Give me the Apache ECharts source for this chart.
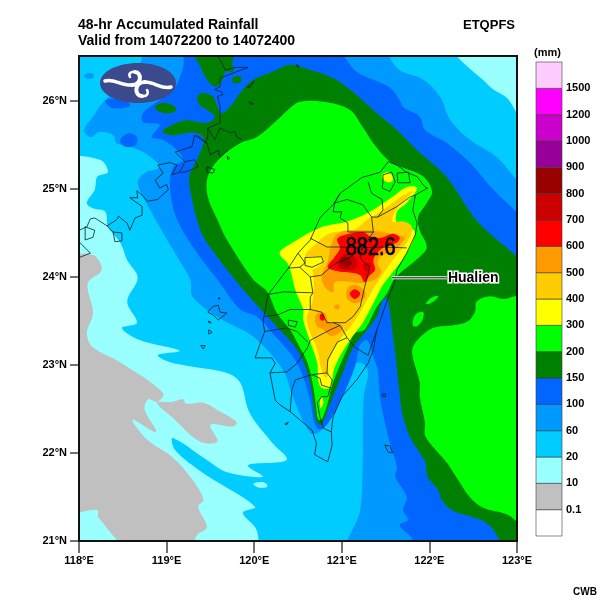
<!DOCTYPE html>
<html>
<head>
<meta charset="utf-8">
<script src="https://cdn.jsdelivr.net/npm/echarts@6/dist/echarts.min.js"></script>
<style>
html,body{margin:0;padding:0;background:#fff}
#main{width:600px;height:600px}
</style>
</head>
<body>
<div id="main"></div>
<script>
// axis ticks
const lonTicks = [118, 119, 120, 121, 122, 123];
const latTicks = [21, 22, 23, 24, 25, 26];
const lonRange = [118, 123];
const latRange = [21, 26.51];

// colour bar, bottom box first
const scaleLabels = ['', '0.1', '10', '20', '60', '100', '150', '200', '300', '400', '500', '600', '700', '800', '900', '1000', '1200', '1500', ''];
const scaleColors = ['#ffffff', '#c0c0c0', '#99ffff', '#00ccff', '#0099ff', '#0066ff', '#008000', '#00ff00', '#ffff00', '#ffcc00', '#ff9900', '#ff0000', '#cc0000', '#990000', '#990099', '#cc00cc', '#ff00ff', '#ffccff'];

const maxRain = '882.6';
const maxRainAt = [121.33, 24.33];
const stationName = 'Hualien';
const stationAt = [121.57, 23.99];
const stationLabelAt = [122.2, 23.99];

// rainfall contours, rings of [lon, lat], lowest level first
const wholeMap = [[[117.9,20.9],[123.1,20.9],[123.1,26.6],[117.9,26.6]]];
const rain10 = [
  [[117.9,25.31],[118.24,25.33],[118.33,25.19],[118.21,25.14],[118.18,24.99],[118.09,24.84],[118.16,24.78],[118.30,24.74],[118.33,24.57],[118.47,24.39],[118.55,24.19],[118.67,23.99],[118.55,23.72],[118.66,23.48],[118.49,23.42],[118.70,23.28],[119.15,23.16],[118.90,23.11],[119.04,23.03],[119.30,22.98],[119.69,22.91],[119.84,22.80],[119.95,22.45],[120.21,22.11],[120.37,21.92],[119.93,21.86],[120.10,21.73],[119.69,21.78],[119.46,21.92],[119.07,22.17],[119.10,22.03],[119.42,21.77],[120.01,21.39],[119.87,21.32],[120.03,21.12],[120.0,20.9],[117.9,20.9]],
  [[119.99,21.65],[120.09,21.67],[120.15,21.64],[120.14,21.61],[120.04,21.61]],
  [[122.28,26.6],[122.32,26.5],[122.61,26.24],[122.73,26.13],[122.89,26.03],[123,25.86],[123.1,25.75],[123.1,26.6]]
];
const rain01 = [
  [[117.9,24.19],[118.16,24.25],[118.26,24.08],[118.10,23.93],[118.16,23.59],[118.09,23.36],[118.16,23.20],[118.47,23.03],[118.96,22.68],[118.89,22.58],[118.79,22.61],[118.75,22.49],[118.88,22.24],[118.61,22.38],[118.78,22.15],[119.07,21.95],[119.30,21.69],[119.42,21.47],[119.36,21.39],[119.46,21.16],[119.35,21.07],[119.26,20.9],[118.60,20.9],[118.22,21.27],[118.21,21.35],[117.9,21.36]],
  [[118.89,22.57],[119.06,22.58],[119.19,22.61],[119.22,22.56],[119.42,22.57],[119.61,22.47],[119.80,22.35],[119.75,22.30],[119.50,22.32],[119.58,22.13],[119.38,22.13],[119.07,22.40]]
];
const rain60 = [
  [[118.78,26.6],[121.41,26.6],[121.66,26.35],[121.93,26.24],[122.12,26.05],[122.24,25.78],[122.46,25.56],[122.77,25.36],[123.0,25.10],[123.1,25.0],[123.1,20.9],[121.09,20.9],[121.21,21.35],[121.24,21.95],[121.24,22.23],[121.25,22.64],[121.30,22.92],[121.23,23.02],[121.09,22.98],[120.98,22.64],[120.89,22.45],[120.75,22.24],[120.64,22.23],[120.44,22.64],[120.33,22.94],[119.99,23.32],[119.64,23.51],[119.30,23.77],[119.27,23.97],[119.12,24.23],[118.92,24.57],[118.78,24.82],[118.67,25.07],[118.75,25.18],[118.92,25.24],[118.89,25.30],[118.75,25.41],[118.58,25.48],[118.43,25.52],[118.39,25.61],[118.24,25.65],[118.13,25.59],[118.06,25.67],[118.16,25.82],[118.27,25.98],[118.58,26.24],[118.70,26.43]],
  [[118.07,26.30],[118.16,26.31],[118.16,26.26],[118.07,26.26]]
];
const rain100 = [
  [[119.23,26.6],[120.90,26.6],[121.17,26.33],[121.55,26.15],[121.66,26.01],[121.70,25.93],[121.89,25.82],[121.95,25.67],[122.20,25.52],[122.46,25.30],[122.73,24.99],[123,24.73],[123.1,24.6],[123.1,20.9],[121.80,20.9],[121.80,21.03],[121.66,21.18],[121.76,21.24],[121.70,21.35],[121.74,21.50],[121.61,21.73],[121.63,21.84],[121.55,22.11],[121.44,22.60],[121.41,22.94],[121.36,23.09],[121.29,23.28],[121.21,23.23],[121.15,22.98],[121.01,22.64],[120.90,22.43],[120.79,22.28],[120.72,22.28],[120.67,22.41],[120.64,22.60],[120.49,23.02],[120.21,23.36],[120.03,23.55],[119.84,23.63],[119.58,23.97],[119.35,24.27],[119.12,24.65],[119.04,24.99],[119.07,25.24],[119.19,25.33],[119.12,25.44],[118.95,25.56],[118.83,25.59],[118.92,25.73],[118.73,25.76],[118.73,25.86],[118.92,26.01],[119.10,26.16],[119.19,26.39]],
  [[118.47,25.55],[118.56,25.63],[118.66,25.59],[118.65,25.50],[118.53,25.48]],
  [[118.30,26.01],[118.53,26.01],[118.58,25.94],[118.38,25.92]]
];
const rain150 = [
  [[118.95,25.65],[119.07,25.73],[119.23,25.78],[119.46,25.75],[119.55,25.82],[119.46,25.90],[119.38,25.95],[119.35,26.05],[119.42,26.09],[119.53,26.05],[119.58,25.93],[119.63,25.86],[119.72,25.93],[119.87,26.13],[119.99,26.24],[120.21,26.33],[120.41,26.41],[120.64,26.35],[120.90,26.26],[121.13,26.10],[121.40,25.86],[121.63,25.67],[121.86,25.44],[122.20,25.13],[122.55,24.63],[123,24.23],[123.1,24.12],[123.1,20.9],[122.9,20.9],[122.66,21.20],[122.26,21.35],[122.14,21.47],[122.10,21.58],[121.98,21.73],[121.95,21.90],[121.78,22.18],[121.69,22.45],[121.66,22.68],[121.60,23.20],[121.52,23.76],[121.47,23.74],[121.40,23.55],[121.26,23.36],[121.13,23.20],[121.01,22.91],[120.90,22.64],[120.84,22.49],[120.77,22.32],[120.72,22.35],[120.69,22.45],[120.66,22.68],[120.60,22.94],[120.49,23.17],[120.29,23.40],[120.03,23.68],[119.78,23.97],[119.44,24.42],[119.36,24.61],[119.29,24.88],[119.26,25.14],[119.36,25.36],[119.42,25.58],[119.30,25.64],[119.07,25.61]],
  [[119.29,26.6],[119.38,26.40],[119.45,26.26],[119.55,26.16],[119.63,26.22],[119.67,26.33],[119.76,26.33],[119.75,26.44],[119.79,26.6]],
  [[118.87,25.94],[118.98,25.98],[119.10,25.93],[119.10,25.88],[118.98,25.86],[118.89,25.89]],
  [[119.75,26.26],[119.84,26.28],[119.85,26.22],[119.77,26.20]]
];
const rain200 = [
  [[119.47,25.14],[119.61,25.35],[119.84,25.52],[120.03,25.59],[120.26,25.78],[120.41,25.92],[120.52,25.99],[120.79,25.99],[121.09,25.90],[121.24,25.70],[121.36,25.52],[121.55,25.31],[121.70,25.24],[121.93,25.14],[122.03,24.97],[121.97,24.84],[121.87,24.68],[121.89,24.53],[121.97,24.34],[121.89,24.23],[121.61,23.99],[121.52,23.82],[121.40,23.66],[121.26,23.40],[121.15,23.36],[121.07,23.20],[120.90,22.80],[120.84,22.57],[120.77,22.38],[120.73,22.38],[120.71,22.49],[120.68,22.72],[120.61,23.02],[120.52,23.20],[120.41,23.40],[120.26,23.59],[120.15,23.83],[119.99,23.97],[119.69,24.42],[119.58,24.65],[119.47,24.91]],
  [[123.1,23.77],[122.84,23.75],[122.69,23.78],[122.54,23.72],[122.52,23.60],[122.43,23.49],[122.27,23.45],[122.04,23.42],[121.89,23.31],[121.81,23.20],[121.81,23.09],[121.89,22.80],[121.89,22.64],[121.95,22.34],[121.95,22.20],[122.04,22.07],[122.20,21.89],[122.33,21.69],[122.46,21.50],[122.61,21.38],[122.89,21.30],[123,21.22],[123.1,21.15]],
  [[121.96,23.70],[122.03,23.77],[122.10,23.78],[122.06,23.73],[121.98,23.69]],
  [[121.81,23.45],[121.84,23.57],[121.93,23.60],[121.92,23.51],[121.86,23.44]]
];
const rain300 = [
  [[121.86,25.01],[121.74,25.02],[121.58,24.91],[121.32,24.74],[121.06,24.63],[120.75,24.56],[120.44,24.39],[120.29,24.27],[120.39,24.14],[120.47,23.85],[120.56,23.63],[120.56,23.51],[120.64,23.26],[120.72,23.02],[120.73,22.83],[120.77,22.74],[120.87,22.74],[120.89,22.83],[120.92,22.98],[121.09,23.28],[121.24,23.48],[121.36,23.70],[121.47,23.91],[121.58,24.05],[121.74,24.27],[121.84,24.50],[121.78,24.56],[121.64,24.59],[121.63,24.74],[121.74,24.84]],
  [[121.46,25.16],[121.53,25.19],[121.58,25.14],[121.57,25.08],[121.49,25.09]],
  [[120.75,22.58],[120.77,22.64],[120.79,22.57],[120.76,22.51]]
];
const rain400 = [
  [[121.81,24.97],[121.71,24.93],[121.58,24.84],[121.44,24.74],[121.29,24.65],[121.13,24.53],[120.87,24.50],[120.72,24.39],[120.58,24.23],[120.67,24.05],[120.67,23.74],[120.60,23.51],[120.72,23.17],[120.77,22.94],[120.81,22.86],[120.85,22.89],[120.84,23.02],[120.95,23.25],[121.09,23.42],[121.18,23.55],[121.29,23.74],[121.40,23.93],[121.58,24.19],[121.76,24.42],[121.80,24.57],[121.70,24.63],[121.58,24.63],[121.63,24.78]]
];
const rain300Notch = [[[120.57,24.21],[120.77,24.23],[120.79,24.17],[120.66,24.08],[120.58,24.08]]];
const rain500 = [
  [[120.96,24.50],[121.24,24.53],[121.52,24.50],[121.72,24.45],[121.69,24.39],[121.61,24.31],[121.44,24.23],[121.41,24.14],[121.45,24.06],[121.38,23.97],[121.28,23.94],[121.18,23.93],[121.05,23.95],[120.92,23.94],[120.90,23.83],[120.81,23.88],[120.77,24.01],[120.84,24.17],[120.87,24.33]],
  [[121.05,23.81],[121.08,23.89],[121.16,23.91],[121.26,23.84],[121.26,23.76],[121.16,23.70],[121.07,23.74]],
  [[120.91,23.66],[120.95,23.69],[120.98,23.66],[120.95,23.63]],
  [[120.71,23.58],[120.81,23.59],[120.85,23.49],[120.95,23.45],[121.01,23.44],[120.98,23.37],[120.87,23.33],[120.79,23.40],[120.71,23.45]]
];
const rain600 = [
  [[120.95,24.44],[121.04,24.48],[121.24,24.51],[121.36,24.44],[121.47,24.45],[121.58,24.49],[121.66,24.45],[121.63,24.39],[121.52,24.36],[121.41,24.28],[121.36,24.19],[121.38,24.08],[121.32,24.02],[121.26,23.94],[121.21,24.02],[121.09,24.05],[120.98,24.06],[120.84,24.11],[120.92,24.23],[120.98,24.33],[120.95,24.40]],
  [[121.09,23.81],[121.15,23.86],[121.21,23.81],[121.15,23.75]],
  [[120.75,23.57],[120.79,23.58],[120.80,23.51],[120.76,23.51]]
];
const rain700 = [
  [[120.96,24.17],[121.04,24.27],[121.12,24.25],[121.18,24.17],[121.15,24.09],[121.04,24.08],[120.96,24.11]],
  [[121.24,24.14],[121.30,24.16],[121.33,24.11],[121.28,24.06]]
];
const rain800 = [[[121.00,24.22],[121.08,24.22],[121.11,24.15],[121.04,24.11],[120.98,24.15]]];

// coast and county lines
const taiwanOutline = [[121.98,25.01],[121.84,24.93],[121.81,24.76],[121.86,24.61],[121.84,24.48],[121.74,24.27],[121.63,24.08],[121.60,23.93],[121.52,23.74],[121.44,23.51],[121.40,23.40],[121.36,23.17],[121.30,23.02],[121.17,22.83],[121.00,22.64],[120.90,22.41],[120.88,22.24],[120.89,22.09],[120.84,21.90],[120.69,21.98],[120.71,22.11],[120.66,22.26],[120.41,22.47],[120.29,22.55],[120.24,22.60],[120.18,22.91],[120.24,23.02],[120.20,23.08],[120.01,23.08],[120.07,23.25],[120.12,23.38],[120.10,23.49],[120.16,23.80],[120.39,24.10],[120.50,24.27],[120.64,24.42],[120.75,24.67],[120.90,24.82],[120.98,24.95],[121.23,25.13],[121.44,25.19],[121.53,25.31],[121.63,25.27],[121.74,25.19],[121.86,25.14],[121.95,25.02],[121.98,25.01]];
const countyLines = [
  [[120.64,24.44],[120.83,24.34],[120.98,24.34],[121.17,24.33],[121.47,24.34],[121.74,24.33]],
  [[120.39,24.10],[120.52,24.11],[120.64,24.00],[120.77,24.02],[120.87,24.11],[120.96,24.17],[121.09,24.22],[121.24,24.33]],
  [[120.50,24.27],[120.58,24.16],[120.52,24.11]],
  [[120.98,24.95],[120.92,24.84],[121.06,24.88],[121.24,24.82],[121.34,24.68],[121.41,24.68],[121.63,24.80],[121.78,24.91],[121.84,24.93]],
  [[121.30,25.08],[121.34,24.95],[121.46,24.88],[121.47,24.76],[121.41,24.68]],
  [[120.92,24.84],[120.90,24.74],[121.00,24.74],[120.98,24.67],[121.07,24.61],[121.07,24.51],[121.17,24.51],[121.36,24.51],[121.34,24.68]],
  [[121.36,24.51],[121.24,24.33],[121.21,24.22],[121.26,24.16],[121.32,24.11],[121.29,24.00],[121.26,23.88],[121.21,23.66],[121.13,23.55],[121.04,23.48],[120.90,23.48],[120.83,23.48],[120.77,23.60],[120.64,23.63],[120.64,23.77],[120.67,23.82]],
  [[120.16,23.80],[120.33,23.83],[120.67,23.82]],
  [[120.64,24.00],[120.67,23.82]],
  [[120.12,23.55],[120.27,23.57],[120.41,23.63],[120.64,23.63]],
  [[120.90,23.48],[120.98,23.45],[120.87,23.40],[120.64,23.28],[120.61,23.20],[120.49,23.02],[120.37,22.92],[120.18,22.91]],
  [[120.12,23.38],[120.37,23.42],[120.49,23.38],[120.61,23.26]],
  [[121.06,23.31],[120.95,23.26],[120.84,23.06],[120.83,22.91],[120.66,22.89],[120.47,22.83],[120.43,22.72],[120.41,22.47]],
  [[120.98,23.45],[121.06,23.31],[121.15,23.20],[121.30,23.11],[121.40,23.40]],
  [[120.66,22.89],[120.75,22.85],[120.77,22.77],[120.87,22.74],[120.89,22.83],[120.83,22.91]],
  [[120.87,22.74],[120.84,22.64],[120.77,22.64],[120.72,22.57],[120.75,22.41],[120.79,22.28],[120.88,22.24]],
  [[120.58,24.22],[120.77,24.23],[120.79,24.17],[120.66,24.11],[120.58,24.13],[120.58,24.22]],
  [[121.47,25.16],[121.57,25.19],[121.61,25.08],[121.55,24.97],[121.46,25.01],[121.47,25.08],[121.47,25.16]],
  [[121.63,25.18],[121.76,25.19],[121.78,25.07],[121.64,25.07],[121.63,25.18]],
  [[120.39,23.51],[120.49,23.49],[120.47,23.43],[120.39,23.45],[120.39,23.51]]
];
const chinaCoast = [
  [[119.58,26.51],[119.61,26.47],[119.67,26.35],[119.78,26.38],[119.93,26.38],[119.61,26.26],[119.61,26.16],[119.55,26.13],[119.63,26.10],[119.64,26.07],[119.58,26.05],[119.61,25.93],[119.61,25.75],[119.47,25.69],[119.47,25.59],[119.44,25.52]],
  [[119.46,25.52],[119.32,25.61],[119.29,25.48],[119.10,25.42],[119.21,25.31],[119.32,25.33],[119.36,25.25],[119.21,25.19],[119.15,25.19],[119.21,25.31]],
  [[119.15,25.19],[119.06,25.16],[119.12,25.27],[119.04,25.30],[118.90,25.27],[118.96,25.18],[118.87,25.10],[118.92,25.01],[119.00,25.05],[119.02,24.99],[118.95,24.93],[118.90,24.88],[118.78,24.86],[118.72,24.93],[118.66,24.98],[118.67,24.90],[118.58,24.90],[118.72,24.80],[118.72,24.70],[118.64,24.67],[118.58,24.53],[118.55,24.61],[118.45,24.69],[118.43,24.65],[118.32,24.58],[118.18,24.67],[118.13,24.66],[118.09,24.57],[118.00,24.53]],
  [[118.32,24.58],[118.39,24.51],[118.49,24.50],[118.49,24.41],[118.41,24.40],[118.39,24.51]],
  [[118.00,24.40],[118.13,24.27],[118.00,24.22]],
  [[118.07,24.57],[118.18,24.53],[118.16,24.45],[118.07,24.42],[118.07,24.57]],
  [[119.35,25.61],[119.46,25.52],[119.50,25.39],[119.59,25.44],[119.61,25.36],[119.70,25.44]],
  [[119.47,25.69],[119.55,25.56],[119.61,25.69],[119.72,25.64],[119.78,25.65],[119.80,25.59],[119.86,25.56]],
  [[119.46,25.25],[119.55,25.22],[119.53,25.18],[119.46,25.19],[119.46,25.25]]
];
const islands = [
  [[119.47,23.60],[119.52,23.66],[119.59,23.68],[119.61,23.60],[119.69,23.59],[119.59,23.51],[119.53,23.57],[119.47,23.60]],
  [[119.60,23.77],[119.61,23.75],[119.59,23.75],[119.60,23.77]],
  [[119.48,23.50],[119.51,23.48],[119.48,23.48],[119.48,23.50]],
  [[119.48,23.40],[119.52,23.37],[119.48,23.35],[119.48,23.40]],
  [[119.39,23.22],[119.44,23.22],[119.42,23.18],[119.39,23.22]],
  [[120.35,22.33],[120.39,22.35],[120.37,22.32],[120.35,22.33]],
  [[121.46,22.67],[121.50,22.67],[121.50,22.64],[121.47,22.64],[121.46,22.67]],
  [[121.49,22.09],[121.55,22.08],[121.58,22.00],[121.53,22.01],[121.49,22.09]],
  [[119.92,26.15],[120.00,26.23],[119.96,26.16],[119.92,26.15]],
  [[119.94,25.99],[119.99,25.97],[119.96,25.96],[119.94,25.99]],
  [[120.48,26.41],[120.51,26.40],[120.50,26.38],[120.48,26.41]],
  [[119.69,25.37],[119.72,25.35],[119.70,25.33],[119.69,25.37]]
];

const fontName = '"Liberation Sans", Arial, sans-serif';

// one custom series for a set of filled rings
function areaSeries(rings, color, order) {
  return {
    type: 'custom',
    coordinateSystem: 'cartesian2d',
    clip: true,
    silent: true,
    z: order,
    data: rings.map((r, i) => [i]),
    renderItem: function (params, api) {
      return {
        type: 'polygon',
        shape: { points: rings[params.dataIndex].map(p => api.coord(p)), smooth: 0.35 },
        style: { fill: color, stroke: null }
      };
    }
  };
}

function lineSeries(lines, order) {
  return {
    type: 'custom',
    coordinateSystem: 'cartesian2d',
    clip: true,
    silent: true,
    z: order,
    data: lines.map((r, i) => [i]),
    renderItem: function (params, api) {
      return {
        type: 'polyline',
        shape: { points: lines[params.dataIndex].map(p => api.coord(p)) },
        style: { fill: null, stroke: '#10202a', lineWidth: 0.8 }
      };
    }
  };
}

const layers = [
  [wholeMap, '#00ccff'], [rain10, '#99ffff'], [rain01, '#c0c0c0'], [rain60, '#0099ff'],
  [rain100, '#0066ff'], [rain150, '#008000'], [rain200, '#00ff00'], [rain300, '#ffff00'],
  [rain400, '#ffcc00'], [rain300Notch, '#ffff00'], [rain500, '#ff9900'], [rain600, '#ff0000'],
  [rain700, '#cc0000'], [rain800, '#990000']
];
const series = layers.map((l, i) => areaSeries(l[0], l[1], i + 1));
series.push(lineSeries([taiwanOutline].concat(countyLines, chinaCoast, islands), 20));

// max value, station label and frame
series.push({
  type: 'custom',
  coordinateSystem: 'cartesian2d',
  clip: false,
  silent: true,
  z: 30,
  data: [[0]],
  renderItem: function (params, api) {
    const from = api.coord(stationAt);
    const to = api.coord(stationLabelAt);
    const low = api.coord([lonRange[0], latRange[0]]);
    const high = api.coord([lonRange[1], latRange[1]]);
    const peak = api.coord(maxRainAt);
    return {
      type: 'group',
      children: [
        { type: 'line', shape: { x1: from[0], y1: from[1], x2: to[0], y2: to[1] }, style: { stroke: '#fff', lineWidth: 3 } },
        { type: 'line', shape: { x1: from[0], y1: from[1], x2: to[0], y2: to[1] }, style: { stroke: '#000', lineWidth: 1 } },
        { type: 'text', style: { x: to[0] + 1, y: to[1], text: stationName, fill: '#000', stroke: '#fff', lineWidth: 3, font: 'bold 14px ' + fontName, align: 'left', verticalAlign: 'middle' } },
        { type: 'text', x: peak[0], y: peak[1], scaleX: 0.77, style: { x: 0, y: 0, text: maxRain, fill: '#000', stroke: '#000', lineWidth: 0.7, font: '26px ' + fontName, align: 'center', verticalAlign: 'middle' } },
        { type: 'rect', shape: { x: low[0], y: high[1], width: high[0] - low[0], height: low[1] - high[1] }, style: { fill: null, stroke: '#111', lineWidth: 2 } }
      ]
    };
  }
});

// colour bar
series.push({
  type: 'custom',
  coordinateSystem: 'cartesian2d',
  xAxisIndex: 1,
  yAxisIndex: 1,
  silent: true,
  z: 5,
  data: scaleColors.map((c, i) => [0, i]),
  renderItem: function (params, api) {
    const i = params.dataIndex;
    const a = api.coord([0, i]);
    const b = api.coord([1, i + 1]);
    return {
      type: 'rect',
      shape: { x: a[0], y: b[1], width: b[0] - a[0], height: a[1] - b[1] },
      style: { fill: scaleColors[i], stroke: 'rgba(60,60,60,0.6)', lineWidth: 1 }
    };
  }
});

const chart = echarts.init(document.getElementById('main'), null, { renderer: 'canvas' });
chart.setOption({
  animation: false,
  backgroundColor: '#fff',
  textStyle: { fontFamily: fontName },
  title: [
    { text: '48-hr Accumulated Rainfall\nValid from 14072200 to 14072400', left: 78, top: 17, padding: 0, textStyle: { fontSize: 14, fontWeight: 'bold', color: '#000', lineHeight: 16, fontFamily: fontName } },
    { text: 'ETQPFS', left: 463, top: 17, padding: 0, textStyle: { fontSize: 13, fontWeight: 'bold', color: '#000', lineHeight: 16, fontFamily: fontName } },
    { text: '(mm)', left: 534, top: 47, padding: 0, textStyle: { fontSize: 11, fontWeight: 'bold', color: '#000', fontFamily: fontName } },
    { text: 'CWB', left: 573, top: 587, padding: 0, textStyle: { fontSize: 10, fontWeight: 'bold', color: '#000', fontFamily: fontName } }
  ],
  grid: [
    { left: 79, top: 56, width: 438, height: 485 },
    { left: 536, top: 62, width: 26, height: 474 }
  ],
  xAxis: [
    {
      type: 'value', gridIndex: 0, min: lonRange[0], max: lonRange[1], interval: 1,
      splitLine: { show: false },
      axisLine: { lineStyle: { color: '#222', width: 2 } },
      axisTick: { length: 12, lineStyle: { color: '#444', width: 1.5 } },
      axisLabel: { formatter: v => v + '°E', color: '#000', fontSize: 11, fontWeight: 'bold', margin: 14, fontFamily: fontName, customValues: lonTicks }
    },
    { type: 'value', gridIndex: 1, min: 0, max: 1, show: false }
  ],
  yAxis: [
    {
      type: 'value', gridIndex: 0, min: latRange[0], max: latRange[1],
      splitLine: { show: false },
      axisLine: { lineStyle: { color: '#222', width: 2 } },
      axisTick: { length: 9, lineStyle: { color: '#444', width: 1.5 }, customValues: latTicks },
      axisLabel: { formatter: v => v + '°N', color: '#000', fontSize: 11, fontWeight: 'bold', margin: 12, fontFamily: fontName, customValues: latTicks }
    },
    {
      type: 'value', gridIndex: 1, min: 0, max: scaleColors.length, interval: 1, position: 'right',
      splitLine: { show: false },
      axisLine: { show: false },
      axisTick: { show: false },
      axisLabel: { formatter: v => scaleLabels[v], color: '#000', fontSize: 11, fontWeight: 'bold', margin: 4, fontFamily: fontName }
    }
  ],
  series: series,
  // agency logo over the map
  graphic: [
    { type: 'ellipse', shape: { cx: 138, cy: 83, rx: 38, ry: 20 }, style: { fill: '#3a4a8c' }, z: 100 },
    { type: 'bezierCurve', shape: { x1: 105, y1: 81, cpx1: 113, cpy1: 78, cpx2: 122, cpy2: 86, x2: 132, y2: 85 }, style: { stroke: '#fff', lineWidth: 3.5, fill: null, lineCap: 'round' }, z: 101 },
    { type: 'bezierCurve', shape: { x1: 132, y1: 85, cpx1: 142, cpy1: 85, cpx2: 142, cpy2: 72, x2: 135, y2: 72 }, style: { stroke: '#fff', lineWidth: 4, fill: null, lineCap: 'round' }, z: 101 },
    { type: 'bezierCurve', shape: { x1: 135, y1: 72, cpx1: 131, cpy1: 71, cpx2: 128, cpy2: 74, x2: 130, y2: 77 }, style: { stroke: '#fff', lineWidth: 2.5, fill: null, lineCap: 'round' }, z: 101 },
    { type: 'bezierCurve', shape: { x1: 171, y1: 87, cpx1: 162, cpy1: 90, cpx2: 155, cpy2: 82, x2: 145, y2: 82 }, style: { stroke: '#fff', lineWidth: 3.5, fill: null, lineCap: 'round' }, z: 101 },
    { type: 'bezierCurve', shape: { x1: 145, y1: 82, cpx1: 134, cpy1: 82, cpx2: 134, cpy2: 96, x2: 142, y2: 96 }, style: { stroke: '#fff', lineWidth: 4, fill: null, lineCap: 'round' }, z: 101 },
    { type: 'bezierCurve', shape: { x1: 142, y1: 96, cpx1: 147, cpy1: 97, cpx2: 149, cpy2: 93, x2: 147, y2: 90 }, style: { stroke: '#fff', lineWidth: 2.5, fill: null, lineCap: 'round' }, z: 101 }
  ]
});
</script>
</body>
</html>
